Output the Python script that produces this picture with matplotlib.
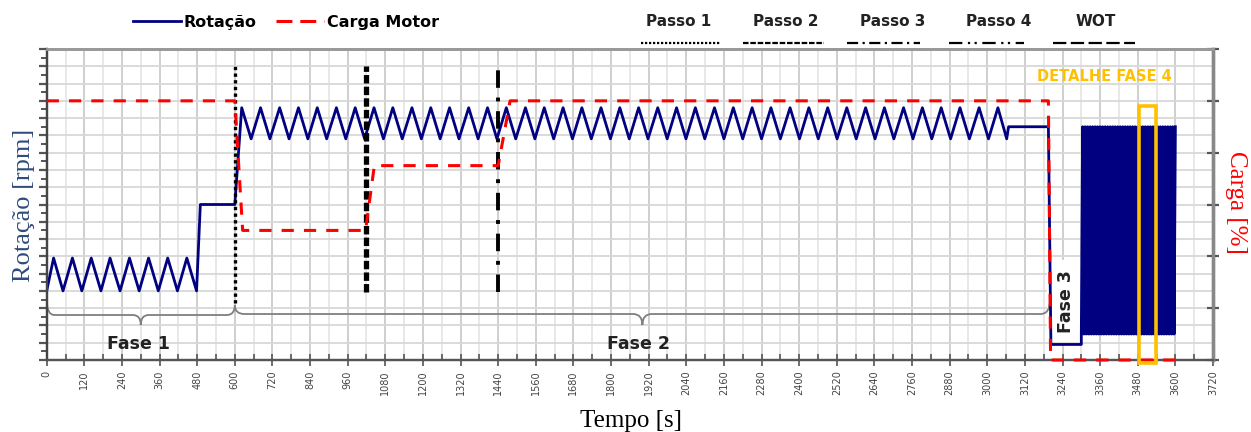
import numpy as np
import matplotlib
matplotlib.use('Agg')
import matplotlib.pyplot as plt
from matplotlib.path import Path
from matplotlib.patches import PathPatch, Rectangle
from matplotlib.lines import Line2D
from matplotlib.ticker import MultipleLocator

# ---- dados ----
# Fase 1: rotacao oscilando (vales / picos em s)
vale_f1 = [0, 52, 112, 173, 234, 295, 356, 417, 478]
pico_f1 = [22, 82, 142, 202, 264, 325, 386, 447]
rpm_f1 = (2000, 2950)           # (vale, pico)
patamar_t = [490, 600]
rpm_patamar = 4500

# Fase 2: oscilacao em alta rotacao
pico_f2 = [622, 682, 743, 803, 863, 924, 984, 1044, 1104, 1165, 1225, 1285, 1346, 1406,
           1466, 1527, 1587, 1647, 1707, 1768, 1828, 1888, 1949, 2009, 2069, 2130, 2190,
           2250, 2310, 2371, 2431, 2491, 2552, 2612, 2672, 2733, 2793, 2853, 2913, 2974, 3034]
vale_f2 = [652, 712, 773, 833, 893, 954, 1014, 1074, 1134, 1195, 1255, 1315, 1376, 1436,
           1496, 1557, 1617, 1677, 1737, 1798, 1858, 1918, 1979, 2039, 2099, 2160, 2220,
           2280, 2340, 2401, 2461, 2521, 2582, 2642, 2702, 2763, 2823, 2883, 2943, 3004, 3062]
rpm_f2 = (6400, 7300)
fim_f2_t = [3068, 3195]
rpm_fim_f2 = 6750

# Fase 3: marcha lenta
f3_t = [3203, 3300]
rpm_f3 = 450

# WOT (fase 4): oscilacao rapida
wot_t = list(range(3300, 3601, 4))
wot_rpm = [750, 6750] * 38

# Carga do motor [%]
carga_t = [0, 600, 625, 1017, 1045, 1440, 1478, 3195, 3202, 3600]
carga_pct = [100, 100, 50, 50, 75, 75, 100, 100, 0, 0]

# Passos (linhas verticais)
passos_t = [600, 1020, 1440]
passos_rpm_topo = [8500, 8500, 8500]
passos_rpm_base = [1650, 1970, 1970]

# ---- monta a serie de rotacao ----
rot_t, rot_rpm = [], []
for i in range(len(pico_f1)):
    rot_t += [vale_f1[i], pico_f1[i]]
    rot_rpm += [rpm_f1[0], rpm_f1[1]]
rot_t.append(vale_f1[-1]); rot_rpm.append(rpm_f1[0])
rot_t += patamar_t; rot_rpm += [rpm_patamar] * 2
for p, v in zip(pico_f2, vale_f2):
    rot_t += [p, v]
    rot_rpm += [rpm_f2[1], rpm_f2[0]]
rot_t += fim_f2_t; rot_rpm += [rpm_fim_f2] * 2
rot_t += f3_t; rot_rpm += [rpm_f3] * 2
rot_t += wot_t; rot_rpm += wot_rpm

AZUL = '#000080'
VERMELHO = '#FF0000'
LARANJA = '#FFC000'

fig = plt.figure(figsize=(12.51, 4.32), dpi=100)
ax = fig.add_axes([46.7/1251, 1-360/432, (1213-46.7)/1251, 311/432])
ax2 = ax.twinx()

ax.set_xlim(0, 3720)
ax.set_ylim(0, 9000)
ax2.set_ylim(0, 120)

# grade
ax.set_axisbelow(True)
ax.xaxis.set_major_locator(MultipleLocator(120))
ax.xaxis.set_minor_locator(MultipleLocator(60))
ax.yaxis.set_major_locator(MultipleLocator(500))
ax.yaxis.set_minor_locator(MultipleLocator(250))
ax.grid(True, which='major', axis='x', color='#cbcbcb', lw=1.3)
ax.grid(True, which='minor', axis='x', color='#e2e2e2', lw=1.1)
ax.grid(True, which='major', axis='y', color='#d8d8d8', lw=1.3)

# linhas
linha_rot, = ax.plot(rot_t, rot_rpm, color=AZUL, lw=2.0, zorder=3)
linha_carga, = ax2.plot(carga_t, carga_pct, color=VERMELHO, lw=2.2,
                        dashes=(4, 3.3), zorder=4, clip_on=False)

estilos_passo = [(0, (1, 1)), (0, (1.6, 0.6)), (0, (4.5, 2.5, 1.0, 2.5))]
larguras_passo = [2.4, 3.8, 2.8]
for t, top, base, ls, lw in zip(passos_t, passos_rpm_topo, passos_rpm_base,
                                estilos_passo, larguras_passo):
    ax.plot([t, t], [base, top], color='black', lw=lw, linestyle=ls, zorder=5)


def chave(eixo, t0, t1, y0, y1, yb, ytip, dx):
    tm = (t0 + t1) / 2
    verts = [(t0, y0), (t0, yb), (t0 + dx, yb),
             (tm - dx, yb), (tm, yb), (tm, ytip),
             (tm, yb), (tm + dx, yb),
             (t1 - dx, yb), (t1, yb), (t1, y1)]
    codes = [Path.MOVETO, Path.CURVE3, Path.CURVE3, Path.LINETO, Path.CURVE3, Path.CURVE3,
             Path.CURVE3, Path.CURVE3, Path.LINETO, Path.CURVE3, Path.CURVE3]
    eixo.add_patch(PathPatch(Path(verts, codes), fc='none', ec='#7f7f7f', lw=1.3, zorder=2))


chave(ax, 0, 600, 1736, 1592, 1302, 1013, 25)
chave(ax, 600, 3200, 1592, 1736, 1331, 1013, 30)

fonte_sans = dict(family='DejaVu Sans', weight='bold', color='#222222')
ax.text(293, 460, 'Fase 1', ha='center', va='center', fontsize=12.5, zorder=6, **fonte_sans)
ax.text(1886, 460, 'Fase 2', ha='center', va='center', fontsize=12.5, zorder=6, **fonte_sans)
ax.text(3250, 1700, 'Fase 3', ha='center', va='center', rotation=90, fontsize=12.5, zorder=1,
        bbox=dict(boxstyle='square,pad=0.55', fc='white', ec='none'), **fonte_sans)

# detalhe fase 4
ax2.add_patch(Rectangle((3485, -1.3), 53, 99.3, fill=False, ec=LARANJA, lw=2.6,
                        clip_on=False, zorder=6))
ax2.text(3373, 109.2, 'DETALHE FASE 4', ha='center', va='center', fontsize=10.5,
         family='DejaVu Sans', weight='bold', color=LARANJA)

# eixos / ticks
ax.tick_params(axis='x', which='major', direction='inout', length=9, width=1.2,
               color='#555555', labelsize=7, labelcolor='#444444', labelrotation=90, pad=3)
ax.tick_params(axis='x', which='minor', direction='in', length=4, width=1.2, color='#555555')
ax.tick_params(axis='y', which='major', direction='out', length=6, width=1.6,
               color='#555555', labelleft=False)
ax.tick_params(axis='y', which='minor', direction='out', length=4, width=1.4, color='#555555')
ax2.yaxis.set_major_locator(MultipleLocator(20))
ax2.tick_params(axis='y', direction='inout', length=9, width=1.6, color='#555555',
                labelright=False)

for sp, cor, lw in [('left', '#444444', 1.6), ('bottom', '#555555', 1.6),
                    ('top', '#999999', 2.0), ('right', '#888888', 2.4)]:
    ax.spines[sp].set_color(cor); ax.spines[sp].set_linewidth(lw)
    ax2.spines[sp].set_color(cor); ax2.spines[sp].set_linewidth(lw)

serif = ['Liberation Serif', 'DejaVu Serif']
ax.set_ylabel('Rotação [rpm]', family=serif, fontsize=19, color='#2F4B7C')
ax.yaxis.set_label_coords(-0.010, 0.498)
ax2.set_ylabel('Carga [%]', family=serif, fontsize=18, color=VERMELHO, rotation=270)
ax2.yaxis.set_label_coords(1.029, 0.508)
ax.set_xlabel('Tempo [s]', family=serif, fontsize=18, color='black')
ax.xaxis.set_label_coords(0.501, -0.160)

# legenda principal
prox_carga = Line2D([], [], color=VERMELHO, lw=2.2, dashes=(5.2, 2.6))
fig.legend([linha_rot, prox_carga], ['Rotação', 'Carga Motor'], loc='center',
           bbox_to_anchor=(286/1251, 1-22/432), ncol=2, frameon=False,
           handlelength=3.0, handletextpad=0.2, columnspacing=1.2,
           prop=dict(family='DejaVu Sans', weight='bold', size=11.5))

# legenda dos passos (texto + amostra da linha)
passos_nome = ['Passo 1', 'Passo 2', 'Passo 3', 'Passo 4', 'WOT']
passos_estilo_leg = [(0, (1, 0.8)), (0, (2.5, 0.8)), (0, (5, 2, 1, 2)),
                     (0, (6, 2.5, 1, 2, 1, 2.5)), (0, (6, 2))]
passos_x_txt = [679, 786, 893, 999, 1096]
passos_x_lin = [(641, 720), (743, 824), (847, 920), (949, 1024), (1053, 1135)]
for nome, ls, xt, (xa, xb) in zip(passos_nome, passos_estilo_leg, passos_x_txt, passos_x_lin):
    fig.text(xt/1251, 1-22/432, nome, ha='center', va='center', fontsize=11,
             family='DejaVu Sans', weight='bold', color='#222222')
    fig.add_artist(Line2D([xa/1251, xb/1251], [1-43/432, 1-43/432], color='black',
                          lw=1.6, linestyle=ls, transform=fig.transFigure))

fig.savefig('out.png', dpi=100)
